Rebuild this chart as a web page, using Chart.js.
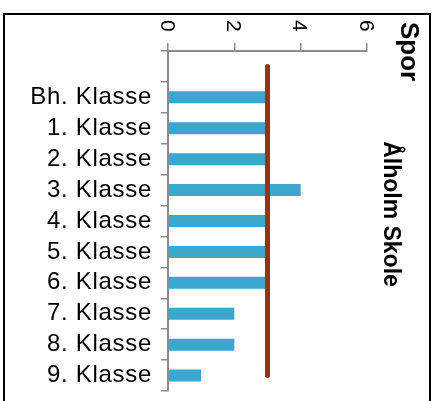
<!DOCTYPE html>
<html><head><meta charset="utf-8">
<script src="https://cdn.jsdelivr.net/npm/chart.js@4"></script>
<style>html,body{margin:0;padding:0;background:#fff}#wrap{width:436px;height:401px;position:relative}</style>
</head><body><div id="wrap"><canvas id="c"></canvas></div>
<script>
const categories = ['', 'Bh. Klasse', '1. Klasse', '2. Klasse', '3. Klasse', '4. Klasse', '5. Klasse', '6. Klasse', '7. Klasse', '8. Klasse', '9. Klasse'];
const sporValues = [null, 3, 3, 3, 4, 3, 3, 3, 2, 2, 1];
const referenceValues = [3, 3, 3, 3, 3, 3, 3, 3, 3, 3, 3];
const xTickValues = [0, 2, 4, 6];
const chartTitle = 'Spor';
const chartSubtitle = 'Ålholm Skole';

const FONT = "'Liberation Sans', Arial, Helvetica, sans-serif";
const AXIS_GREY = '#8c8c8c';

const decor = {
  id: 'decor',
  beforeDraw(chart) {
    const ctx = chart.ctx;
    ctx.save();
    ctx.fillStyle = '#fff';
    ctx.fillRect(0, 0, chart.width, chart.height);
    ctx.restore();
    ctx.letterSpacing = '0.7px';
  },
  afterDraw(chart) {
    const ctx = chart.ctx;
    ctx.save();
    ctx.letterSpacing = '0px';
    ctx.strokeStyle = '#000';
    ctx.lineWidth = 2;
    ctx.strokeRect(4, 14, 426, 480);
    const xs = chart.scales.x;
    ctx.fillStyle = '#000';
    ctx.font = '21px ' + FONT;
    ctx.textAlign = 'left';
    ctx.textBaseline = 'alphabetic';
    xs.ticks.forEach(t => {
      const px = xs.getPixelForValue(t.value);
      ctx.save();
      ctx.translate(px - 7.5, 20);
      ctx.rotate(Math.PI / 2);
      ctx.fillText(String(t.value), 0, 0);
      ctx.restore();
    });
    ctx.font = 'bold 26px ' + FONT;
    ctx.save();
    ctx.translate(401, 22);
    ctx.rotate(Math.PI / 2);
    ctx.fillText(chartTitle, 0, 0);
    ctx.restore();
    ctx.font = 'bold 23px ' + FONT;
    ctx.textAlign = 'center';
    ctx.save();
    ctx.translate(384, 214);
    ctx.rotate(Math.PI / 2);
    ctx.fillText(chartSubtitle, 0, 0);
    ctx.restore();
    ctx.restore();
  }
};

new Chart(document.getElementById('c'), {
  type: 'bar',
  data: {
    labels: categories,
    datasets: [
      {
        type: 'line',
        label: 'Snit',
        data: referenceValues,
        borderColor: '#993300',
        borderWidth: 5,
        borderCapStyle: 'round',
        pointRadius: 0,
        fill: false,
        order: 0
      },
      {
        type: 'bar',
        label: 'Spor',
        data: sporValues,
        backgroundColor: 'rgb(59,167,207)',
        borderWidth: 0,
        categoryPercentage: 0.8,
        barPercentage: 0.485,
        order: 1
      }
    ]
  },
  options: {
    indexAxis: 'y',
    responsive: true,
    maintainAspectRatio: false,
    animation: false,
    layout: { padding: { left: 0, top: 0, right: 69, bottom: 10 } },
    plugins: { legend: { display: false }, tooltip: { enabled: false }, title: { display: false } },
    scales: {
      x: {
        position: 'top',
        min: 0,
        max: 6,
        afterBuildTicks: s => { s.ticks = xTickValues.map(v => ({ value: v })); },
        afterFit: s => { s.height = 51; s.paddingLeft = 0; s.paddingRight = 0; },
        ticks: { display: false },
        grid: { drawOnChartArea: false, tickLength: 8, color: AXIS_GREY, lineWidth: 1.5 },
        border: { display: true, color: AXIS_GREY, width: 2 }
      },
      y: {
        afterFit: s => { s.width = 168; s.paddingTop = 0; s.paddingBottom = 0; },
        ticks: { color: '#000', font: { family: FONT, size: 24 }, padding: 9, autoSkip: false },
        grid: { offset: true, drawOnChartArea: false, tickLength: 7, color: AXIS_GREY, lineWidth: 1.5 },
        border: { display: true, color: AXIS_GREY, width: 2 }
      }
    }
  },
  plugins: [decor]
});
</script>
</body></html>
